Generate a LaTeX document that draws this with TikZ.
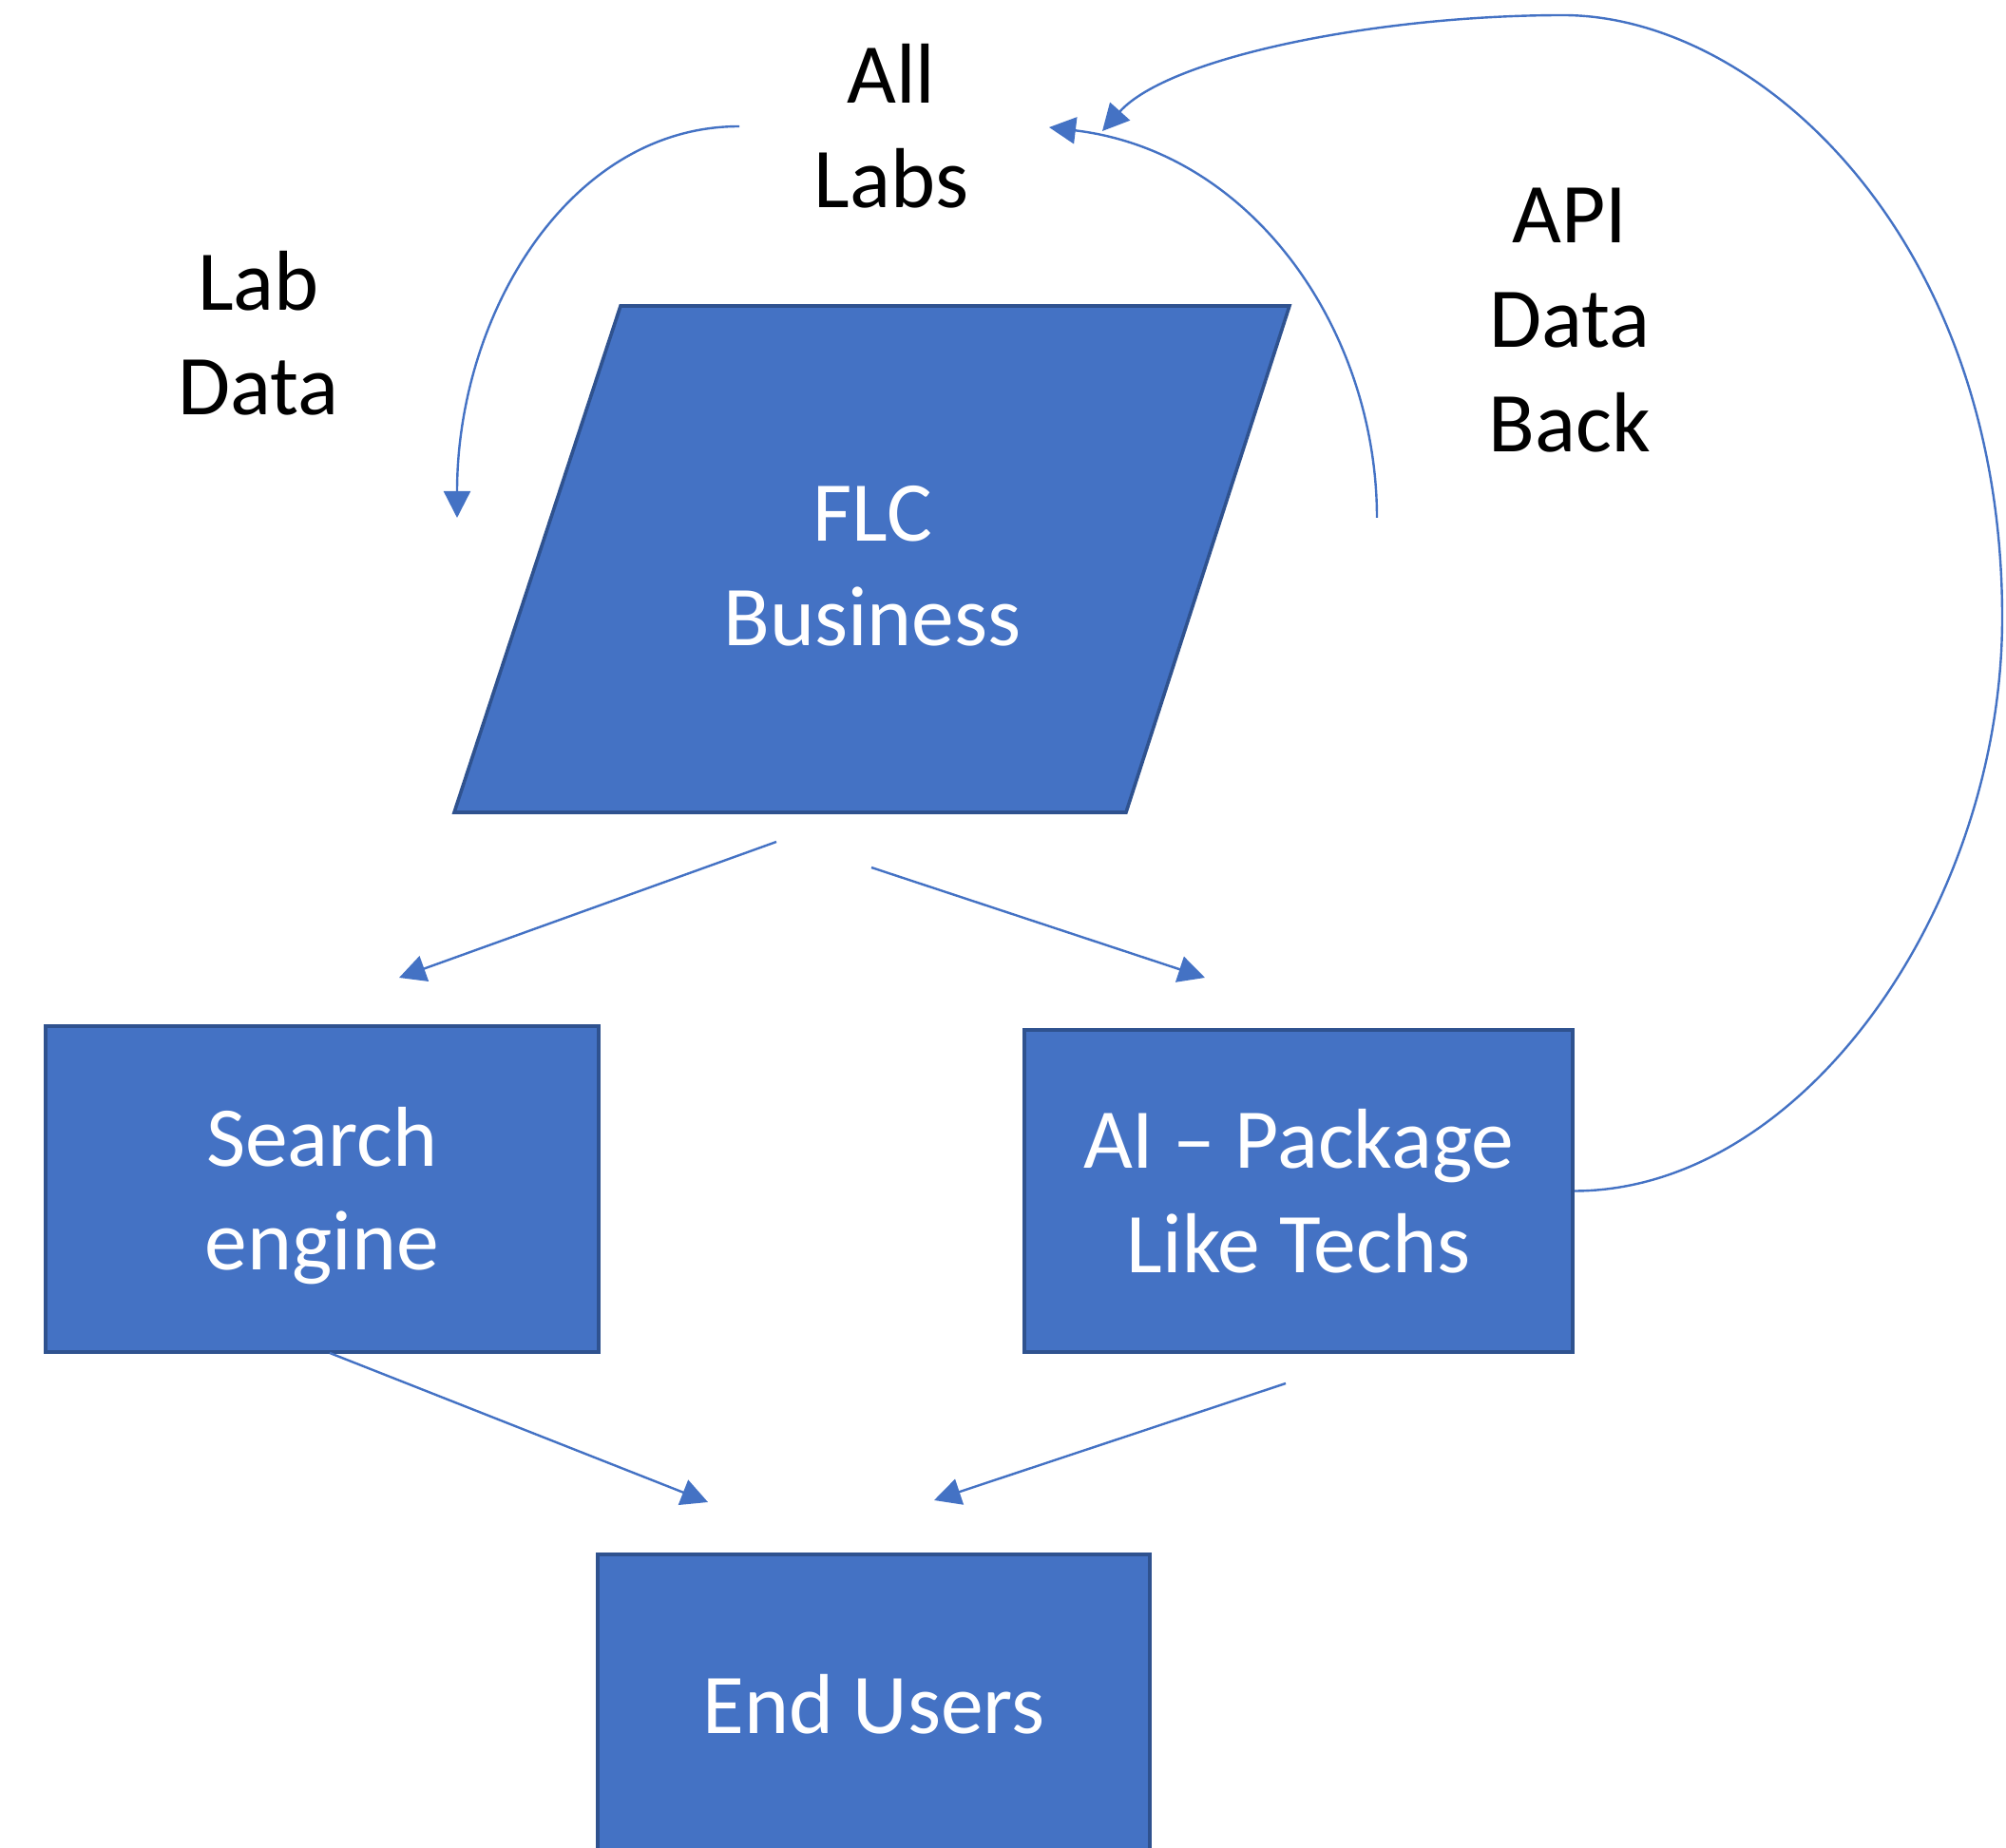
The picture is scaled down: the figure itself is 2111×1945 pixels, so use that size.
\documentclass[tikz,border=0pt]{standalone}
\usepackage{fontspec}
\setmainfont{Carlito}
\usetikzlibrary{arrows.meta}
\definecolor{obl}{HTML}{4472C4}
\definecolor{obd}{HTML}{2F528F}
\tikzset{
  boxnode/.style={draw=obd, fill=obl, line width=0.9pt, text=white, align=center, inner sep=0pt},
  boxpath/.style={draw=obd, fill=obl, line width=0.9pt},
  lbl/.style={align=center, inner sep=0pt},
  conn/.style={draw=obl, line width=0.6pt, -{Triangle[length=7pt,width=7pt]}}
}
\begin{document}
\begin{tikzpicture}[x=0.25pt,y=-0.25pt,font=\fontsize{22.4}{27.4}\selectfont]
\useasboundingbox (0,0) rectangle (2111,1945);
\clip (0,0) rectangle (2111,1945);

% parallelogram
\draw[boxpath] (478,855) -- (653,322) -- (1357,322) -- (1185,855) -- cycle;
\node[lbl, text=white] (flc) at (918,596) {FLC\\Business};

% boxes
\node[boxnode, minimum width=145.5pt, minimum height=85.75pt] (search) at (339,1251.5) {\rule{0pt}{19pt}Search\\engine};
\node[boxnode, minimum width=144.25pt, minimum height=84.75pt] (ai) at (1366.5,1253.5) {AI – Package\\Like Techs};
\node[boxnode, minimum width=145.25pt, minimum height=79pt] (end) at (919.5,1794) {End Users};

% labels
\node[lbl] (alllabs) at (938,132.5) {All\\Labs};
\node[lbl] (labdata) at (272,351) {Lab\\Data};
\node[lbl] (api) at (1652,337) {API\\Data\\Back};

% coordinates
\coordinate (c1s) at (778,133);
\coordinate (c1e) at (481,545);
\coordinate (c2s) at (1449,545);
\coordinate (c2e) at (1104,134);
\coordinate (c3e) at (1160,138);
\coordinate (a1s) at (817,886);
\coordinate (a1e) at (420,1029);
\coordinate (a2s) at (917,913);
\coordinate (a2e) at (1268,1029);
\coordinate (a3s) at (347,1424);
\coordinate (a3e) at (745,1581);
\coordinate (a4s) at (1353,1456);
\coordinate (a4e) at (983,1579);

% connectors
\draw[conn] (c1s) .. controls (600,133) and (481,330) .. (c1e);
\draw[conn] (c2s) .. controls (1449,350) and (1320,160) .. (c2e);
\draw[conn] (ai.east) .. controls (1900,1253) and (2107,950) .. (2107,650)
  .. controls (2107,250) and (1850,16) .. (1645,16)
  .. controls (1450,16) and (1230,60) .. (c3e);
\draw[conn] (a1s) -- (a1e);
\draw[conn] (a2s) -- (a2e);
\draw[conn] (a3s) -- (a3e);
\draw[conn] (a4s) -- (a4e);
\end{tikzpicture}
\end{document}
